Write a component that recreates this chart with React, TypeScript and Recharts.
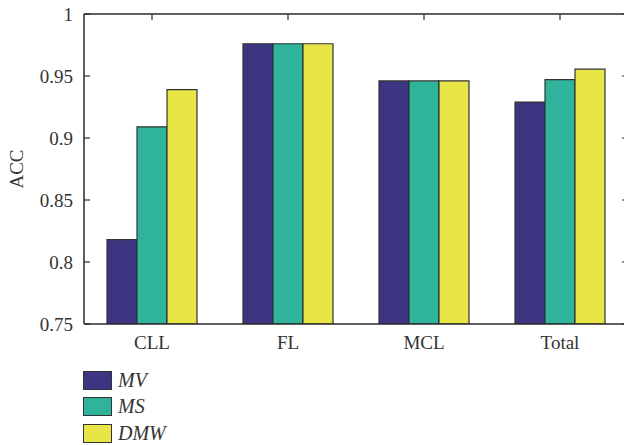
import React from 'react';
import { BarChart, Bar, XAxis, YAxis } from 'recharts';

const categories = ['CLL', 'FL', 'MCL', 'Total'];
const mvValues = [0.818, 0.976, 0.946, 0.929];
const msValues = [0.909, 0.976, 0.946, 0.947];
const dmwValues = [0.939, 0.976, 0.946, 0.9555];
const yTicks = [0.75, 0.8, 0.85, 0.9, 0.95, 1];
const yTickLabels = ['0.75', '0.8', '0.85', '0.9', '0.95', '1'];

const seriesNames = ['MV', 'MS', 'DMW'];
const seriesColors = ['#3c3581', '#2fb39a', '#e8e646'];

const data = categories.map((c, i) => ({
  cat: c,
  MV: mvValues[i],
  MS: msValues[i],
  DMW: dmwValues[i],
}));

const FONT = '"Liberation Serif", "DejaVu Serif", serif';
const AX = '#2a2a2a';
const blank = () => '';

export default function App() {
  return (
    <div
      style={{
        position: 'absolute',
        left: 0,
        top: 0,
        width: 624,
        height: 445,
        overflow: 'hidden',
        background: '#fff',
        fontFamily: FONT,
      }}
    >
      <BarChart
        width={640}
        height={445}
        data={data}
        margin={{ top: 14, right: 12, bottom: 91, left: 0 }}
        barSize={30}
        barGap={0}
      >
        <XAxis
          xAxisId="top"
          dataKey="cat"
          orientation="top"
          mirror
          tickFormatter={blank}
          tickSize={6}
          axisLine={{ stroke: AX, strokeWidth: 1.5 }}
          tickLine={{ stroke: AX, strokeWidth: 1.2 }}
        />
        <XAxis
          dataKey="cat"
          height={30}
          tickSize={0}
          tickMargin={12}
          axisLine={{ stroke: AX, strokeWidth: 1.5 }}
          tick={{ fill: '#333', fontSize: 19, fontFamily: FONT }}
        />
        <YAxis
          domain={[0.75, 1]}
          ticks={yTicks}
          allowDataOverflow
          width={84}
          tickSize={0}
          tickMargin={11}
          tickFormatter={(v: number) => yTickLabels[yTicks.indexOf(v)] ?? String(v)}
          axisLine={{ stroke: AX, strokeWidth: 1.5 }}
          tick={{ fill: '#333', fontSize: 19, fontFamily: FONT }}
          label={{
            value: 'ACC',
            angle: -90,
            position: 'insideLeft',
            offset: 16,
            style: { textAnchor: 'middle', fill: '#333', fontSize: 19, fontFamily: FONT },
          }}
        />
        <YAxis
          yAxisId="leftTicks"
          domain={[0.75, 1]}
          ticks={yTicks}
          allowDataOverflow
          mirror
          tickFormatter={blank}
          tickSize={6}
          axisLine={false}
          tickLine={{ stroke: AX, strokeWidth: 1.2 }}
        />
        <YAxis
          yAxisId="right"
          orientation="right"
          domain={[0.75, 1]}
          ticks={yTicks}
          allowDataOverflow
          mirror
          tickFormatter={blank}
          tickSize={6}
          axisLine={{ stroke: AX, strokeWidth: 1.5 }}
          tickLine={{ stroke: AX, strokeWidth: 1.2 }}
        />
        {seriesNames.map((name, i) => (
          <Bar
            key={name}
            dataKey={name}
            fill={seriesColors[i]}
            stroke="#333"
            strokeWidth={1.2}
            isAnimationActive={false}
          />
        ))}
      </BarChart>
      <div style={{ position: 'absolute', left: 83, top: 367 }}>
        {seriesNames.map((name, i) => (
          <div
            key={name}
            style={{ display: 'flex', alignItems: 'center', height: 26.5 }}
          >
            <div
              style={{
                width: 27,
                height: 17,
                background: seriesColors[i],
                border: '1.2px solid #333',
              }}
            />
            <span
              style={{
                marginLeft: 6,
                fontStyle: 'italic',
                fontSize: 20,
                color: '#333',
                fontFamily: FONT,
              }}
            >
              {name}
            </span>
          </div>
        ))}
      </div>
    </div>
  );
}
